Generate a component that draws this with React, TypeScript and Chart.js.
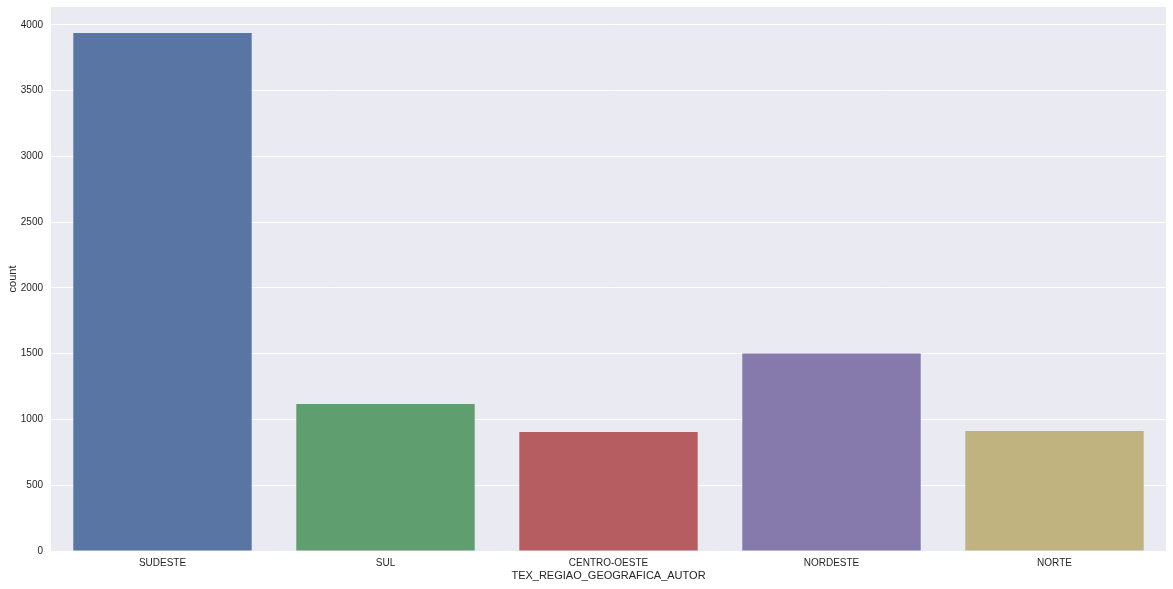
import React, { useEffect, useRef } from "react";
import { Chart, registerables } from "chart.js";

Chart.register(...registerables);

const categories = ["SUDESTE", "SUL", "CENTRO-OESTE", "NORDESTE", "NORTE"];
const counts = [3939, 1118, 905, 1502, 912];
const barColors = ["#5975A4", "#5F9E6E", "#B55D60", "#857AAB", "#C1B37F"];
const yTicks = [0, 500, 1000, 1500, 2000, 2500, 3000, 3500, 4000];
const yMax = 4136;

const bgPlugin = {
  id: "plotBg",
  beforeDraw(chart: any) {
    const { ctx, chartArea } = chart;
    ctx.save();
    ctx.fillStyle = "#EAEAF2";
    ctx.fillRect(chartArea.left, chartArea.top, chartArea.right - chartArea.left, chartArea.bottom - chartArea.top);
    ctx.restore();
  },
};

export default function App() {
  const ref = useRef<HTMLCanvasElement | null>(null);
  useEffect(() => {
    if (!ref.current) return;
    const chart = new Chart(ref.current, {
      type: "bar",
      data: {
        labels: categories,
        datasets: [
          {
            label: "count",
            data: counts,
            backgroundColor: barColors,
            borderWidth: 0,
            barPercentage: 0.8,
            categoryPercentage: 1,
          },
        ],
      },
      options: {
        responsive: false,
        animation: false,
        layout: { padding: { left: 0, right: 7, top: 7, bottom: 0 } },
        plugins: { legend: { display: false }, tooltip: { enabled: false } },
        scales: {
          x: {
            grid: { display: false, drawTicks: false },
            border: { display: false },
            ticks: {
              padding: 6,
              color: "#262626",
              font: { family: "'Liberation Sans', Arial, sans-serif", size: 10 },
              maxRotation: 0,
            },
            title: {
              display: true,
              text: "TEX_REGIAO_GEOGRAFICA_AUTOR",
              color: "#262626",
              font: { family: "'Liberation Sans', Arial, sans-serif", size: 11 },
              padding: { top: 0, bottom: 6 },
            },
            afterFit(scale: any) {
              scale.height = 38;
              scale.paddingLeft = 0;
              scale.paddingRight = 0;
            },
          },
          y: {
            min: 0,
            max: yMax,
            grid: { color: "#FFFFFF", lineWidth: 1, drawTicks: false },
            border: { display: false },
            ticks: {
              stepSize: 500,
              padding: 8,
              color: "#262626",
              font: { family: "'Liberation Sans', Arial, sans-serif", size: 10 },
              callback: (v: any) => String(v),
            },
            afterBuildTicks(scale: any) {
              scale.ticks = yTicks.map((v) => ({ value: v }));
            },
            title: {
              display: true,
              text: "count",
              color: "#262626",
              font: { family: "'Liberation Sans', Arial, sans-serif", size: 11 },
              padding: { top: 6, bottom: 0 },
            },
            afterFit(scale: any) {
              scale.width = 51;
              scale.paddingTop = 0;
              scale.paddingBottom = 0;
            },
          },
        },
      },
      plugins: [bgPlugin],
    });
    return () => chart.destroy();
  }, []);
  return (
    <div style={{ position: "fixed", left: 0, top: 0, width: 1173, height: 589, background: "#fff" }}>
      <canvas ref={ref} width={1173} height={589} style={{ display: "block" }} />
    </div>
  );
}
